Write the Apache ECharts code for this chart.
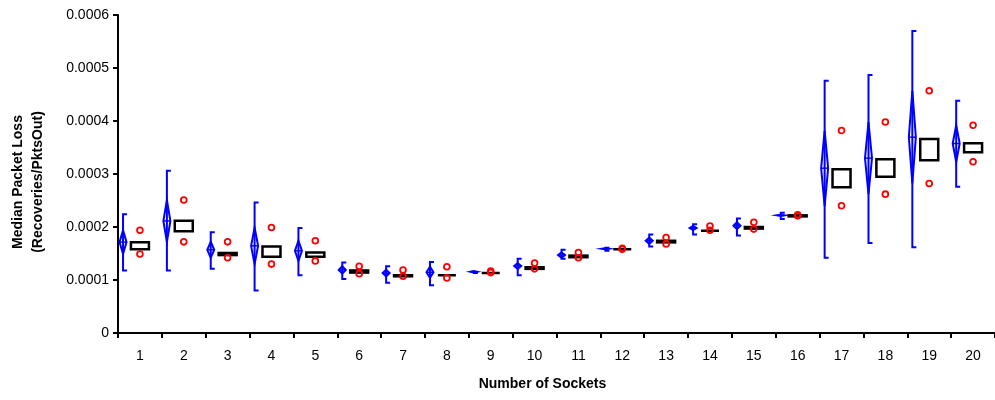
<!DOCTYPE html>
<html><head><meta charset="utf-8">
<script src="https://cdn.jsdelivr.net/npm/echarts@6/dist/echarts.min.js"></script>
<style>html,body{margin:0;padding:0;background:#fff}#c{width:995px;height:400px}</style>
</head><body><div id="c"></div>
<script>
const categories = ['1','2','3','4','5','6','7','8','9','10','11','12','13','14','15','16','17','18','19','20'];
const yTickLabels = ['0','0.0001','0.0002','0.0003','0.0004','0.0005','0.0006'];
// blue bracket: range min / max
const rangeMin = [0.000118,0.000118,0.000121,0.000080,0.000109,0.000102,0.000095,0.000090,0.000113,0.000109,0.000140,0.000155,0.000163,0.000186,0.000184,0.000215,0.000142,0.000170,0.000162,0.000276];
const rangeMax = [0.000224,0.000306,0.000190,0.000246,0.000198,0.000133,0.000126,0.000134,0.000115,0.000140,0.000157,0.000161,0.000186,0.000205,0.000216,0.000227,0.000476,0.000487,0.000570,0.000438];
// black box: low / high
const boxLow  = [0.000158,0.000192,0.000147,0.000144,0.000144,0.000114,0.000107,0.000109,0.000113,0.000121,0.000143,0.000158,0.000171,0.000193,0.000197,0.000220,0.000275,0.000295,0.000326,0.000341];
const boxHigh = [0.000171,0.000212,0.000151,0.000163,0.000152,0.000118,0.000109,0.000109,0.000113,0.000124,0.000146,0.000158,0.000174,0.000193,0.000200,0.000222,0.000309,0.000328,0.000366,0.000358];
// red circles: low / high
const circleLow  = [0.000149,0.000172,0.000142,0.000130,0.000136,0.000112,0.000107,0.000104,0.000114,0.000121,0.000142,0.000158,0.000168,0.000194,0.000196,0.000221,0.000240,0.000262,0.000282,0.000323];
const circleHigh = [0.000194,0.000251,0.000172,0.000199,0.000174,0.000126,0.000119,0.000125,0.000117,0.000132,0.000152,0.000160,0.000180,0.000202,0.000209,0.000223,0.000382,0.000398,0.000457,0.000392];

const seriesData = categories.map((c, i) => [i, rangeMin[i], rangeMax[i], boxLow[i], boxHigh[i], circleLow[i], circleHigh[i]]);
const FONT = "'Liberation Sans', Arial, sans-serif";

function renderItem(params, api) {
  const i = api.value(0);
  const band = api.size([1, 0])[0];
  const cx = api.coord([i, 0])[0];
  const bx = cx - band * 0.385;
  const y = k => api.coord([i, api.value(k)])[1];
  const yMin = y(1), yMax = y(2), yBL = y(3), yBH = y(4), yCL = y(5), yCH = y(6);
  const yMid = (yCL + yCH) / 2;
  const blue = '#0000ff', red = '#ff0000';
  return {
    type: 'group',
    children: [
      {type:'polyline', shape:{points:[[bx+4,yMax],[bx,yMax],[bx,yMin],[bx+4,yMin]]}, style:{stroke:blue, lineWidth:2, fill:'transparent'}},
      {type:'polygon', shape:{points:[[bx-3.5,yMid],[bx,yCH],[bx+3.5,yMid],[bx,yCL]]}, style:{stroke:blue, lineWidth:2, fill:'transparent'}},
      {type:'line', shape:{x1:bx-3.5, y1:yMid, x2:bx+3.5, y2:yMid}, style:{stroke:blue, lineWidth:1.5}},
      {type:'rect', shape:{x:cx-9, y:yBH, width:18, height:Math.max(0, yBL - yBH)}, style:{stroke:'#000', lineWidth:2.5, fill:'transparent'}},
      {type:'circle', shape:{cx:cx, cy:yCH, r:2.9}, style:{stroke:red, lineWidth:1.8, fill:'transparent'}},
      {type:'circle', shape:{cx:cx, cy:yCL, r:2.9}, style:{stroke:red, lineWidth:1.8, fill:'transparent'}}
    ]
  };
}

const chart = echarts.init(document.getElementById('c'));
chart.setOption({
  animation: false,
  backgroundColor: '#fff',
  grid: {left: 117, top: 15, width: 884, height: 318},
  xAxis: {
    type: 'category', data: categories, boundaryGap: true,
    axisLine: {lineStyle: {color: '#000', width: 2}},
    axisTick: {show: true, length: 5, lineStyle: {color: '#000', width: 2}},
    axisLabel: {color: '#000', fontSize: 14, fontFamily: FONT, margin: 16},
    name: 'Number of Sockets', nameLocation: 'middle', nameGap: 44,
    nameTextStyle: {color: '#000', fontSize: 14, fontWeight: 'bold', fontFamily: FONT, padding: [0, 28, 0, 0]}
  },
  yAxis: {
    type: 'value', min: 0, max: 0.0006, interval: 0.0001,
    axisLine: {show: true, lineStyle: {color: '#000', width: 2}},
    axisTick: {show: true, length: 5, lineStyle: {color: '#000', width: 2}},
    splitLine: {show: false},
    axisLabel: {color: '#000', fontSize: 14, fontFamily: FONT, margin: 9, formatter: (v, idx) => yTickLabels[idx]},
    name: 'Median Packet Loss\n(Recoveries/PktsOut)', nameLocation: 'middle', nameGap: 70,
    nameTextStyle: {color: '#000', fontSize: 14, fontWeight: 'bold', fontFamily: FONT, lineHeight: 20, padding: [0, 16, 0, 0]}
  },
  series: [{
    type: 'custom', renderItem: renderItem, data: seriesData,
    encode: {x: 0, y: [1, 2]}, clip: false
  }]
});
</script></body></html>
